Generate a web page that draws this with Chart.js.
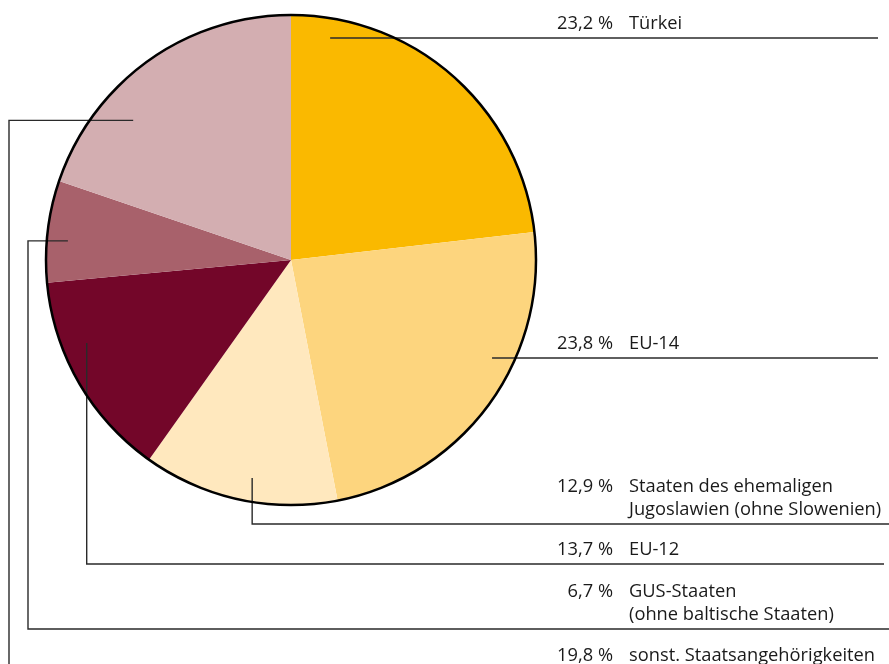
<!DOCTYPE html>
<html>
<head>
<meta charset="utf-8">
<script src="https://cdn.jsdelivr.net/npm/chart.js@4"></script>
<style>
  html, body { margin: 0; padding: 0; background: #fff; }
  #wrap { width: 889px; height: 664px; position: relative; }
</style>
</head>
<body>
<div id="wrap"><canvas id="chart"></canvas></div>
<script>
const categories = [
    "Türkei",
    "EU-14",
    "Staaten des ehemaligen\nJugoslawien (ohne Slowenien)",
    "EU-12",
    "GUS-Staaten\n(ohne baltische Staaten)",
    "sonst. Staatsangehörigkeiten"
];
const shares = [23.2, 23.8, 12.9, 13.7, 6.7, 19.8];
const shareLabels = ["23,2 %", "23,8 %", "12,9 %", "13,7 %", "6,7 %", "19,8 %"];
const colors = ["#FAB900", "#FDD57E", "#FFE8BE", "#730629", "#A8616B", "#D3AEB1"];

// where each leader line starts inside its slice and how it runs to the label
const leaders = [
    { angle: 10,    frac: 0.92,  lineY: null, endX: 878 },
    { angle: 116,   frac: 0.913, lineY: null, endX: 878 },
    { angle: 190.1, frac: 0.904, lineY: 524,  endX: 889 },
    { angle: 247.9, frac: 0.90,  lineY: 564,  endX: 884 },
    { angle: 274.9, frac: 0.914, elbowX: 28, lineY: 629, endX: 889 },
    { angle: 311.5, frac: 0.86,  elbowX: 9,  lineY: 670, endX: 889 }
];

const FONT = '18.3px "Open Sans", sans-serif';
const PCT_X = 613;
const LABEL_X = 629;
const LINE_H = 23;

const leaderPlugin = {
    id: 'leaders',
    afterDatasetsDraw(chart) {
        const ctx = chart.ctx;
        const arcs = chart.getDatasetMeta(0).data;
        const cx = arcs[0].x, cy = arcs[0].y, r = arcs[0].outerRadius;

        ctx.save();
        ctx.strokeStyle = '#2a2a2a';
        ctx.lineWidth = 1.4;
        leaders.forEach((ld, i) => {
            const a = ld.angle * Math.PI / 180;
            const ax = cx + Math.sin(a) * r * ld.frac;
            const ay = cy - Math.cos(a) * r * ld.frac;
            const ly = ld.lineY === null ? ay : ld.lineY;
            ctx.beginPath();
            ctx.moveTo(ax, ay);
            let x = ax;
            if (ld.elbowX !== undefined) {
                x = ld.elbowX;
                ctx.lineTo(x, ay);
            }
            ctx.lineTo(x, ly);
            ctx.lineTo(ld.endX, ly);
            ctx.stroke();

            // texts sit above the line
            const lines = categories[i].split('\n');
            ctx.fillStyle = '#1a1a1a';
            ctx.font = FONT;
            ctx.textBaseline = 'alphabetic';
            const firstBase = ly - 9 - (lines.length - 1) * LINE_H;
            ctx.textAlign = 'right';
            ctx.fillText(shareLabels[i], PCT_X, firstBase);
            ctx.textAlign = 'left';
            lines.forEach((t, k) => ctx.fillText(t, LABEL_X, firstBase + k * LINE_H));
        });

        // outline of the pie
        ctx.beginPath();
        ctx.arc(cx, cy, r, 0, Math.PI * 2);
        ctx.strokeStyle = '#000';
        ctx.lineWidth = 2.5;
        ctx.stroke();
        ctx.restore();
    }
};

const canvas = document.getElementById('chart');
const myChart = new Chart(canvas, {
    type: 'pie',
    data: {
        labels: categories,
        datasets: [{
            data: shares,
            backgroundColor: colors,
            borderWidth: 0
        }]
    },
    options: {
        responsive: true,
        maintainAspectRatio: false,
        animation: false,
        layout: { padding: { left: 46, top: 15, right: 353, bottom: 159 } },
        plugins: {
            legend: { display: false },
            tooltip: { enabled: false }
        }
    },
    plugins: [leaderPlugin]
});
</script>
</body>
</html>
